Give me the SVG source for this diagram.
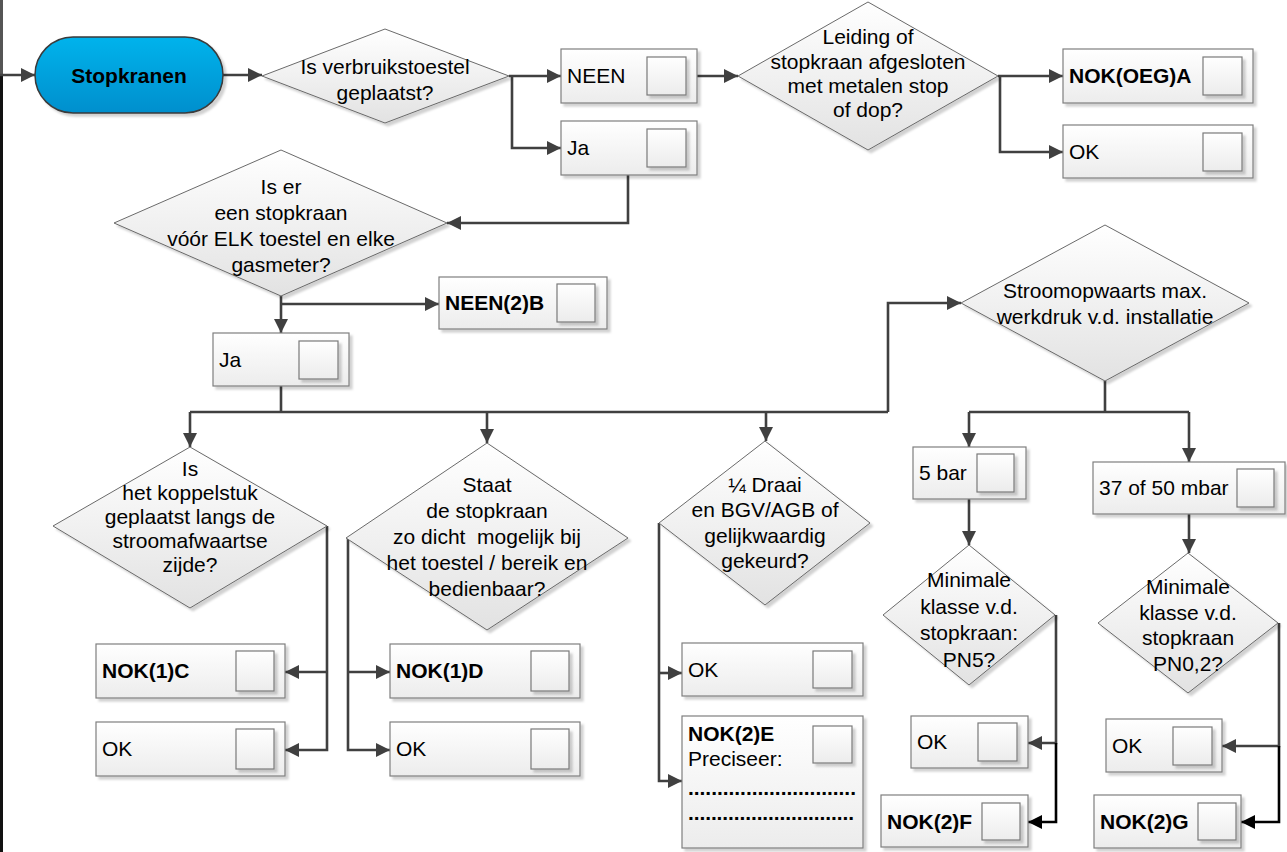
<svg xmlns="http://www.w3.org/2000/svg" width="1287" height="852" viewBox="0 0 1287 852">
  <defs>
    <linearGradient id="gBox" x1="0" y1="0" x2="0" y2="1">
      <stop offset="0" stop-color="#ffffff"/>
      <stop offset="1" stop-color="#ececec"/>
    </linearGradient>
    <linearGradient id="gDia" x1="0" y1="0" x2="0" y2="1">
      <stop offset="0" stop-color="#ffffff"/>
      <stop offset="1" stop-color="#e2e2e2"/>
    </linearGradient>
    <linearGradient id="gPill" x1="0" y1="0" x2="0" y2="1">
      <stop offset="0" stop-color="#00b3ec"/>
      <stop offset="1" stop-color="#008fcd"/>
    </linearGradient>
    <filter id="sh" x="-10%" y="-10%" width="130%" height="130%">
      <feDropShadow dx="3" dy="3" stdDeviation="1" flood-color="#000" flood-opacity="0.18"/>
    </filter>
    <marker id="ah" viewBox="0 0 10 10" refX="10" refY="5" markerUnits="userSpaceOnUse" markerWidth="15" markerHeight="14" orient="auto">
      <path d="M0,0 L10,5 L0,10 z" fill="#404040"/>
    </marker>
    <marker id="ahk" viewBox="0 0 10 10" refX="10" refY="5" markerUnits="userSpaceOnUse" markerWidth="15" markerHeight="14" orient="auto">
      <path d="M0,0 L10,5 L0,10 z" fill="#000"/>
    </marker>
  </defs>
  <style>
    text { font-family: "Liberation Sans", Arial, sans-serif; font-size: 21px; fill: #000; }
    .b { font-weight: bold; }
    .c { text-anchor: middle; }
    .box { fill: url(#gBox); stroke: #7f7f7f; stroke-width: 1.2; filter: url(#sh); }
    .chk { fill: url(#gBox); stroke: #7a7a7a; stroke-width: 1.2; filter: url(#sh); }
    .dia { fill: url(#gDia); stroke: #6a6a6a; stroke-width: 1; filter: url(#sh); }
    .ln { fill: none; stroke: #404040; stroke-width: 2.6; }
    .ar { marker-end: url(#ah); }
    .ark { fill: none; stroke: #000; stroke-width: 2.6; marker-end: url(#ahk); }
  </style>

  <!-- page edge -->
  <rect x="0" y="0" width="3" height="75" fill="#555"/>
  <rect x="0" y="75" width="3" height="777" fill="#111"/>

  <g id="connectors">
    <path class="ln ar" d="M0,75 H35"/>
    <path class="ln ar" d="M223,75 H262"/>
    <path class="ln ar" d="M509,76 H561"/>
    <path class="ln ar" d="M512,76 V148 H561"/>
    <path class="ln ar" d="M697,76 H738"/>
    <path class="ln ar" d="M998,76 H1063"/>
    <path class="ln ar" d="M1000,76 V152 H1063"/>
    <path class="ln ar" d="M628,175 V223 H447"/>
    <path class="ln ar" d="M281,296 V333"/>
    <path class="ln ar" d="M281,304 H439"/>
    <path class="ln" d="M281,386 V412 M190,412 H888"/>
    <path class="ln ar" d="M888,412 V303 H961"/>
    <path class="ln ar" d="M190,412 V447"/>
    <path class="ln ar" d="M487,412 V443"/>
    <path class="ln ar" d="M766,412 V441"/>
    <path class="ln ar" d="M327,526 V750 H285"/>
    <path class="ln ar" d="M327,672 H285"/>
    <path class="ln ar" d="M348,538 V750 H390"/>
    <path class="ln ar" d="M348,672 H390"/>
    <path class="ln ar" d="M659,523 V781 H682"/>
    <path class="ln ar" d="M659,673 H682"/>
    <path class="ln" d="M1105,381 V412 M969,412 H1189"/>
    <path class="ln ar" d="M969,412 V447"/>
    <path class="ln ar" d="M1189,412 V462"/>
    <path class="ln ar" d="M969,499 V545"/>
    <path class="ln ar" d="M1189,514 V553"/>
    <path class="ln ar" d="M1056,615 V743 H1028"/>
    <path class="ark" d="M1056,743 V822 H1028"/>
    <path class="ln ar" d="M1279,623 V746 H1222"/>
    <path class="ark" d="M1279,746 V822 H1241"/>
  </g>

  <g id="start">
    <rect x="35" y="37" width="188" height="76" rx="38" fill="url(#gPill)" stroke="#3a3a3a" stroke-width="1.5" filter="url(#sh)"/>
    <text class="b c" x="129" y="83">Stopkranen</text>
  </g>

  <g id="q-toestel">
    <polygon class="dia" points="385,29 509,76 385,123 262,76"/>
    <text class="c" x="385" y="74">Is verbruikstoestel</text>
    <text class="c" x="385" y="100">geplaatst?</text>
  </g>

  <g id="neen1">
    <rect class="box" x="561" y="49" width="136" height="54"/>
    <rect class="chk" x="647" y="57" width="39" height="38"/>
    <text x="567" y="83">NEEN</text>
  </g>
  <g id="ja1">
    <rect class="box" x="561" y="121" width="136" height="54"/>
    <rect class="chk" x="647" y="129" width="39" height="38"/>
    <text x="567" y="155">Ja</text>
  </g>

  <g id="q-afgesloten">
    <polygon class="dia" points="868,2 998,76 868,150 738,76"/>
    <text class="c" x="868" y="44">Leiding of</text>
    <text class="c" x="868" y="69">stopkraan afgesloten</text>
    <text class="c" x="868" y="93">met metalen stop</text>
    <text class="c" x="868" y="117">of dop?</text>
  </g>

  <g id="nok-oeg-a">
    <rect class="box" x="1063" y="49" width="190" height="54"/>
    <rect class="chk" x="1203" y="57" width="39" height="38"/>
    <text class="b" x="1069" y="83">NOK(OEG)A</text>
  </g>
  <g id="ok-a">
    <rect class="box" x="1063" y="125" width="190" height="53"/>
    <rect class="chk" x="1203" y="133" width="39" height="38"/>
    <text x="1069" y="159">OK</text>
  </g>

  <g id="q-elk-toestel">
    <polygon class="dia" points="281,150 447,223 281,296 114,223"/>
    <text class="c" x="281" y="194">Is er</text>
    <text class="c" x="281" y="220">een stopkraan</text>
    <text class="c" x="281" y="246">vóór ELK toestel en elke</text>
    <text class="c" x="281" y="272">gasmeter?</text>
  </g>

  <g id="neen2b">
    <rect class="box" x="439" y="277" width="168" height="52"/>
    <rect class="chk" x="557" y="284" width="38" height="38"/>
    <text class="b" x="445" y="310">NEEN(2)B</text>
  </g>
  <g id="ja2">
    <rect class="box" x="213" y="333" width="136" height="53"/>
    <rect class="chk" x="299" y="341" width="39" height="38"/>
    <text x="219" y="367">Ja</text>
  </g>

  <g id="q-koppelstuk">
    <polygon class="dia" points="190,447 327,526 190,608 53,526"/>
    <text class="c" x="190" y="476">Is</text>
    <text class="c" x="190" y="500">het koppelstuk</text>
    <text class="c" x="190" y="524">geplaatst langs de</text>
    <text class="c" x="190" y="548">stroomafwaartse</text>
    <text class="c" x="190" y="572">zijde?</text>
  </g>

  <g id="q-dicht">
    <polygon class="dia" points="487,443 628,538 487,630 346,538"/>
    <text class="c" x="487" y="492">Staat</text>
    <text class="c" x="487" y="518">de stopkraan</text>
    <text class="c" x="487" y="544" xml:space="preserve">zo dicht  mogelijk bij</text>
    <text class="c" x="487" y="570">het toestel / bereik en</text>
    <text class="c" x="487" y="596">bedienbaar?</text>
  </g>

  <g id="nok1c">
    <rect class="box" x="96" y="644" width="189" height="54"/>
    <rect class="chk" x="236" y="651" width="38" height="40"/>
    <text class="b" x="102" y="678">NOK(1)C</text>
  </g>
  <g id="ok-c">
    <rect class="box" x="96" y="722" width="189" height="54"/>
    <rect class="chk" x="236" y="729" width="38" height="40"/>
    <text x="102" y="756">OK</text>
  </g>
  <g id="nok1d">
    <rect class="box" x="390" y="644" width="190" height="54"/>
    <rect class="chk" x="531" y="651" width="38" height="40"/>
    <text class="b" x="396" y="678">NOK(1)D</text>
  </g>
  <g id="ok-d">
    <rect class="box" x="390" y="722" width="190" height="54"/>
    <rect class="chk" x="531" y="729" width="38" height="40"/>
    <text x="396" y="756">OK</text>
  </g>

  <g id="q-draai">
    <polygon class="dia" points="765,441 870,523 765,605 659,523"/>
    <text class="c" x="765" y="492">¼ Draai</text>
    <text class="c" x="765" y="517">en BGV/AGB of</text>
    <text class="c" x="765" y="543">gelijkwaardig</text>
    <text class="c" x="765" y="568">gekeurd?</text>
  </g>

  <g id="ok-e">
    <rect class="box" x="682" y="643" width="181" height="53"/>
    <rect class="chk" x="813" y="651" width="39" height="37"/>
    <text x="688" y="677">OK</text>
  </g>
  <g id="nok2e">
    <rect class="box" x="682" y="716" width="181" height="132"/>
    <rect class="chk" x="813" y="726" width="39" height="37"/>
    <text class="b" x="688" y="741">NOK(2)E</text>
    <text x="688" y="766">Preciseer:</text>
    <text class="b" x="688" y="795" textLength="168" lengthAdjust="spacing">.............................</text>
    <text class="b" x="688" y="820" textLength="166" lengthAdjust="spacing">.............................</text>
  </g>

  <g id="q-werkdruk">
    <polygon class="dia" points="1105,225 1249,303 1105,381 961,303"/>
    <text class="c" x="1105" y="298">Stroomopwaarts max.</text>
    <text class="c" x="1105" y="324">werkdruk v.d. installatie</text>
  </g>

  <g id="bar5">
    <rect class="box" x="913" y="447" width="113" height="52"/>
    <rect class="chk" x="977" y="454" width="37" height="38"/>
    <text x="919" y="480">5 bar</text>
  </g>
  <g id="mbar">
    <rect class="box" x="1093" y="462" width="192" height="52"/>
    <rect class="chk" x="1237" y="469" width="37" height="38"/>
    <text x="1099" y="495">37 of 50 mbar</text>
  </g>

  <g id="q-pn5">
    <polygon class="dia" points="969,545 1055,615 969,685 883,615"/>
    <text class="c" x="969" y="587">Minimale</text>
    <text class="c" x="969" y="614">klasse v.d.</text>
    <text class="c" x="969" y="640">stopkraan:</text>
    <text class="c" x="969" y="667">PN5?</text>
  </g>
  <g id="q-pn02">
    <polygon class="dia" points="1188,553 1278,623 1188,693 1098,623"/>
    <text class="c" x="1188" y="594">Minimale</text>
    <text class="c" x="1188" y="620">klasse v.d.</text>
    <text class="c" x="1188" y="645">stopkraan</text>
    <text class="c" x="1188" y="671">PN0,2?</text>
  </g>

  <g id="ok-f">
    <rect class="box" x="911" y="716" width="117" height="52"/>
    <rect class="chk" x="978" y="723" width="39" height="38"/>
    <text x="917" y="749">OK</text>
  </g>
  <g id="nok2f">
    <rect class="box" x="881" y="795" width="147" height="52"/>
    <rect class="chk" x="982" y="803" width="38" height="37"/>
    <text class="b" x="887" y="829">NOK(2)F</text>
  </g>
  <g id="ok-g">
    <rect class="box" x="1106" y="719" width="116" height="53"/>
    <rect class="chk" x="1173" y="727" width="39" height="38"/>
    <text x="1112" y="753">OK</text>
  </g>
  <g id="nok2g">
    <rect class="box" x="1094" y="795" width="147" height="53"/>
    <rect class="chk" x="1198" y="803" width="38" height="37"/>
    <text class="b" x="1100" y="829">NOK(2)G</text>
  </g>
</svg>
